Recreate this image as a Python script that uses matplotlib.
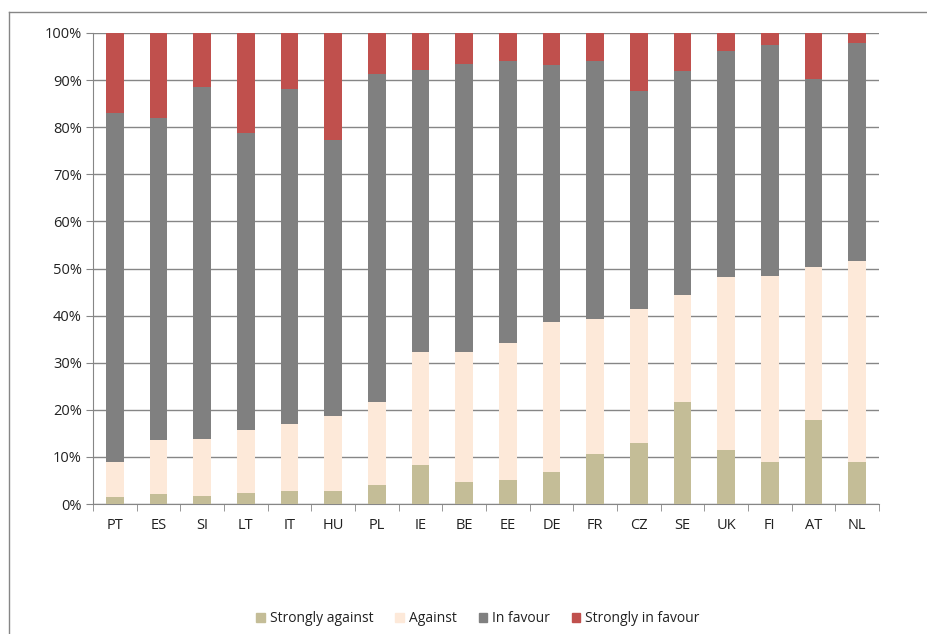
import numpy as np
import matplotlib
matplotlib.use("Agg")
import matplotlib.pyplot as plt
from matplotlib.lines import Line2D

# countries and cumulative shares (percent)
countries = ["PT", "ES", "SI", "LT", "IT", "HU", "PL", "IE", "BE",
             "EE", "DE", "FR", "CZ", "SE", "UK", "FI", "AT", "NL"]
strongly_against = [1.5, 2.2, 1.6, 2.4, 2.7, 2.8, 4.0, 8.3, 4.7,
                    5.2, 6.9, 10.7, 13.0, 21.6, 11.5, 9.0, 17.8, 8.9]
cum_against = [9.0, 13.6, 13.7, 15.8, 16.9, 18.6, 21.6, 32.3, 32.3,
               34.1, 38.7, 39.3, 41.4, 44.3, 48.2, 48.4, 50.4, 51.6]
cum_in_favour = [83.0, 82.0, 88.6, 78.8, 88.1, 77.2, 91.4, 92.1, 93.5,
                 94.0, 93.3, 94.0, 87.7, 91.9, 96.2, 97.5, 90.2, 97.8]

labels = ["Strongly against", "Against", "In favour", "Strongly in favour"]
colors = ["#C4BD97", "#FDE9D9", "#808080", "#C0504D"]

sa = np.array(strongly_against)
ag = np.array(cum_against) - sa
inf = np.array(cum_in_favour) - np.array(cum_against)
sif = 100 - np.array(cum_in_favour)

plt.rcParams['font.family'] = ['Open Sans', 'DejaVu Sans']

fig = plt.figure(figsize=(9.27, 6.34), dpi=100)
ax = fig.add_axes([93/927, 1-504/634, (879-93)/927, (504-33)/634])

x = np.arange(len(countries))
bottom = np.zeros(len(countries))
for vals, lab, col in zip([sa, ag, inf, sif], labels, colors):
    ax.bar(x, vals, bottom=bottom, width=0.4, color=col, label=lab, zorder=3)
    bottom += vals

ax.set_xlim(-0.5, len(countries) - 0.5)
ax.set_ylim(0, 100)
ax.set_yticks(np.arange(0, 101, 10))
ax.set_yticklabels([f"{v}%" for v in range(0, 101, 10)])
ax.set_xticks(x)
ax.set_xticklabels(countries)
ax.set_xticks(np.arange(-0.5, len(countries)), minor=True)
ax.tick_params(axis='x', which='major', length=0, pad=10, labelsize=10.5, colors='#222222')
ax.tick_params(axis='x', which='minor', length=5, color='#868686', direction='out')
ax.tick_params(axis='y', length=5, color='#868686', labelsize=10.5, colors='#222222', pad=3)
ax.yaxis.grid(True, color='#868686', linewidth=1, zorder=0)
for s in ['top', 'right']:
    ax.spines[s].set_visible(False)
for s in ['left', 'bottom']:
    ax.spines[s].set_color('#868686')

handles = [plt.Rectangle((0, 0), 1, 1, color=c) for c in colors]
fig.legend(handles, labels, loc='center', bbox_to_anchor=(478/927, 1-619/634),
           ncol=4, frameon=False, fontsize=10, handlelength=0.6, handleheight=0.6,
           handletextpad=0.35, columnspacing=1.6, labelcolor='#222222')

# outer chart frame (partly cropped in the reference)
fig.add_artist(Line2D([9/927, 1], [1-12/634, 1-12/634], color='#868686', linewidth=1))
fig.add_artist(Line2D([9/927, 9/927], [0, 1-12/634], color='#868686', linewidth=1))

fig.savefig("out.png", dpi=100)
